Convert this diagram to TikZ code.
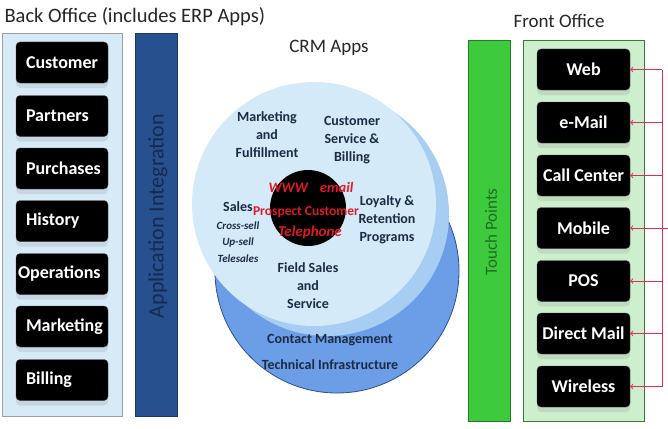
\documentclass[tikz,border=0pt]{standalone}
\usepackage{fontspec}
\setmainfont{Carlito}
\usetikzlibrary{shadows}

\definecolor{backblue}{HTML}{D6EAF8}
\definecolor{intblue}{HTML}{27508E}
\definecolor{inttext}{HTML}{142A50}
\definecolor{frontgreen}{HTML}{CDEFCD}
\definecolor{touchgreen}{HTML}{3DCB3D}
\definecolor{touchtext}{HTML}{1F6E1F}
\definecolor{discone}{HTML}{D5EAF9}
\definecolor{disctwo}{HTML}{A7CDF2}
\definecolor{discthree}{HTML}{6C9EE8}
\definecolor{discline}{HTML}{2D4E8E}
\definecolor{crmtext}{HTML}{1C2A44}
\definecolor{hubred}{HTML}{E01A26}
\definecolor{linkred}{HTML}{E22A55}

\tikzset{
  heading/.style={text=black!85, font=\fontsize{19}{22}\selectfont},
  panel/.style={draw=gray!75, line width=0.8pt},
  appbox/.style={fill=black, draw=black!70, rounded corners=4pt,
    minimum height=41pt, text=white,
    font=\fontsize{18}{21}\selectfont\bfseries,
    drop shadow={shadow xshift=0pt, shadow yshift=-5pt, opacity=0.18}},
  leftapp/.style={appbox, text width=72pt, inner xsep=10pt, align=left},
  rightapp/.style={appbox, minimum width=93pt, inner xsep=3pt},
  barlabel/.style={rotate=90, font=\fontsize{22}{26}\selectfont},
  crmlabel/.style={text=crmtext, align=center, inner sep=0pt,
    font=\fontsize{14}{18}\selectfont\bfseries},
  salelabel/.style={text=crmtext, align=center, inner sep=0pt,
    font=\fontsize{11}{16.5}\selectfont\bfseries\itshape},
  hublabel/.style={text=hubred, inner sep=0pt,
    font=\fontsize{14}{17}\selectfont\bfseries},
  link/.style={->, draw=linkred, line width=1pt}
}

\begin{document}
\begin{tikzpicture}[x=1pt, y=-1pt]
  \useasboundingbox (0,0) rectangle (668,428);

  % Headings
  \node[heading, font=\fontsize{20.5}{24}\selectfont, anchor=west] (backtitle) at (1,17) {Back Office (includes ERP Apps)};
  \node[heading] (crmtitle) at (329,48) {CRM Apps};
  \node[heading] (fronttitle) at (559,21) {Front Office};

  % Back office
  \draw[panel, fill=backblue] (2,33) rectangle (122,416);
  \node[leftapp] (customer) at (62,62.5) {Customer};
  \node[leftapp] (partners) at (62,116) {Partners};
  \node[leftapp] (purchases) at (62,168.5) {Purchases};
  \node[leftapp] (history) at (62,221) {History};
  \node[leftapp, text width=88pt, inner xsep=2pt] (operations) at (62,274) {Operations};
  \node[leftapp] (marketing) at (62,326.5) {Marketing};
  \node[leftapp] (billing) at (62,380) {Billing};

  % Application integration
  \draw[draw=intblue!70!black, fill=intblue] (135,33) rectangle (177,416);
  \node[barlabel, text=inttext] (intlabel) at (158,216) {Application Integration};

  % CRM apps discs
  \draw[draw=discline, line width=0.8pt, fill=discthree] (337,271) circle[radius=122];
  \fill[disctwo] (327,214) circle[radius=122];
  \fill[discone] (314,204) circle[radius=122];
  \fill[black] (308,208) circle[radius=38];

  \node[crmlabel] (mktfill) at (267,135) {Marketing\\and\\Fulfillment};
  \node[crmlabel] (custserv) at (352,140) {Customer\\Service \&\\Billing};
  \node[crmlabel] (loyalty) at (387,220) {Loyalty \&\\Retention\\Programs};
  \node[crmlabel, anchor=west] (sales) at (223,207) {Sales};
  \node[salelabel] (crosssell) at (238,242) {Cross-sell\\Up-sell\\Telesales};
  \node[crmlabel] (fieldsales) at (308,286) {Field Sales\\and\\Service};
  \node[crmlabel] (contact) at (330,340) {Contact Management};
  \node[crmlabel] (techinfra) at (330,365) {Technical Infrastructure};

  % Hub texts
  \node[hublabel, font=\fontsize{14.5}{17}\selectfont\bfseries\itshape] (wwwmail) at (311,187) {WWW\hspace{12pt}email};
  \node[hublabel, font=\fontsize{13.5}{16}\selectfont\bfseries] (prospect) at (306,212) {Prospect Customer};
  \node[hublabel, font=\fontsize{15}{17}\selectfont\bfseries\itshape] (telephone) at (310,232) {Telephone};

  % Touch points
  \draw[draw=touchgreen!60!black, fill=touchgreen] (468,40) rectangle (510,421);
  \node[barlabel, text=touchtext, font=\fontsize{17}{20}\selectfont] (touchlabel) at (491,232) {Touch Points};

  % Front office
  \draw[panel, draw=gray!60!green!70!black, fill=frontgreen] (523,40) rectangle (644,421);
  \node[rightapp] (web) at (583.5,69.5) {Web};
  \node[rightapp] (email) at (583.5,122.5) {e-Mail};
  \node[rightapp] (callcenter) at (583.5,175.5) {Call Center};
  \node[rightapp] (mobile) at (583.5,228) {Mobile};
  \node[rightapp] (pos) at (583.5,281) {POS};
  \node[rightapp] (directmail) at (583.5,333.5) {Direct Mail};
  \node[rightapp] (wireless) at (583.5,386.5) {Wireless};

  % Channel links
  \coordinate (bus) at (662,0);
  \coordinate (feed) at (668,0);
  \draw[draw=linkred, line width=1pt] (web.east -| bus) -- (wireless.east -| bus);
  \draw[link] (web.east -| bus) -- (web.east);
  \draw[link] (email.east -| bus) -- (email.east);
  \draw[link] (callcenter.east -| bus) -- (callcenter.east);
  \draw[link] (mobile.east -| feed) -- (mobile.east);
  \draw[link] (pos.east -| bus) -- (pos.east);
  \draw[link] (directmail.east -| bus) -- (directmail.east);
  \draw[link] (wireless.east -| bus) -- (wireless.east);
\end{tikzpicture}
\end{document}
